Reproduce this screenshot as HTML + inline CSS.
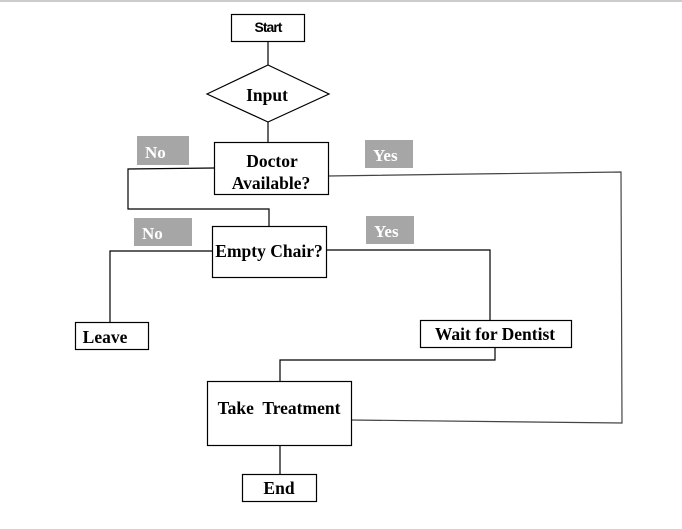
<!DOCTYPE html>
<html><head><style>
body{margin:0;background:#fff;}
svg text{font-family:"Liberation Serif",serif;font-weight:bold;}
</style></head><body>
<svg width="682" height="524" xmlns="http://www.w3.org/2000/svg">
<line x1="0" y1="1" x2="682" y2="1" stroke="#ccc" stroke-width="2"/>
<g stroke="#000" stroke-width="1.2" fill="none">
<line x1="268" y1="41" x2="268" y2="65"/>
<line x1="268" y1="122" x2="268" y2="142"/>
<polyline points="214,168 128,169 128,209 269,209 269,226"/>
<polyline points="212,251 110,251 110,322"/>
<polyline points="326,250 490,250 490,320"/>
<polyline points="495,347 495,360 280,360 280,381"/>
<polyline points="351,420 622,423 621,172 328,176" stroke="#444"/>
<line x1="280" y1="445" x2="280" y2="474"/>
<rect x="231.5" y="14.5" width="73" height="27"/>
<polygon points="207,94 268,65 329,94 268,122" />
<rect x="214.5" y="142.5" width="114" height="52"/>
<rect x="212.5" y="226.5" width="114" height="51"/>
<rect x="75.5" y="322.5" width="73" height="27"/>
<rect x="420.5" y="320.5" width="151" height="27"/>
<rect x="207.5" y="381.5" width="144" height="64"/>
<rect x="242.5" y="474.5" width="74" height="27"/>
</g>
<g fill="#a6a6a6">
<rect x="137" y="136" width="52" height="29"/>
<rect x="365" y="140" width="48" height="28"/>
<rect x="134" y="218" width="58" height="28"/>
<rect x="366" y="216" width="48" height="28"/>
</g>
<g fill="#fff" font-size="17">
<text x="145" y="158">No</text>
<text x="373" y="161">Yes</text>
<text x="142" y="239">No</text>
<text x="374" y="237">Yes</text>
</g>
<g font-size="17.5" fill="#000" text-anchor="middle">
<text x="268" y="32" style="font-family:'Liberation Sans',sans-serif;letter-spacing:-1px" font-size="14">Start</text>
<text x="267" y="101">Input</text>
<text x="272" y="167">Doctor</text>
<text x="271" y="189">Available?</text>
<text x="269" y="257">Empty Chair?</text>
<text x="105" y="343">Leave</text>
<text x="495" y="340">Wait for Dentist</text>
<text x="279" y="414" xml:space="preserve">Take  Treatment</text>
<text x="279" y="494">End</text>
</g>
</svg>
</body></html>
